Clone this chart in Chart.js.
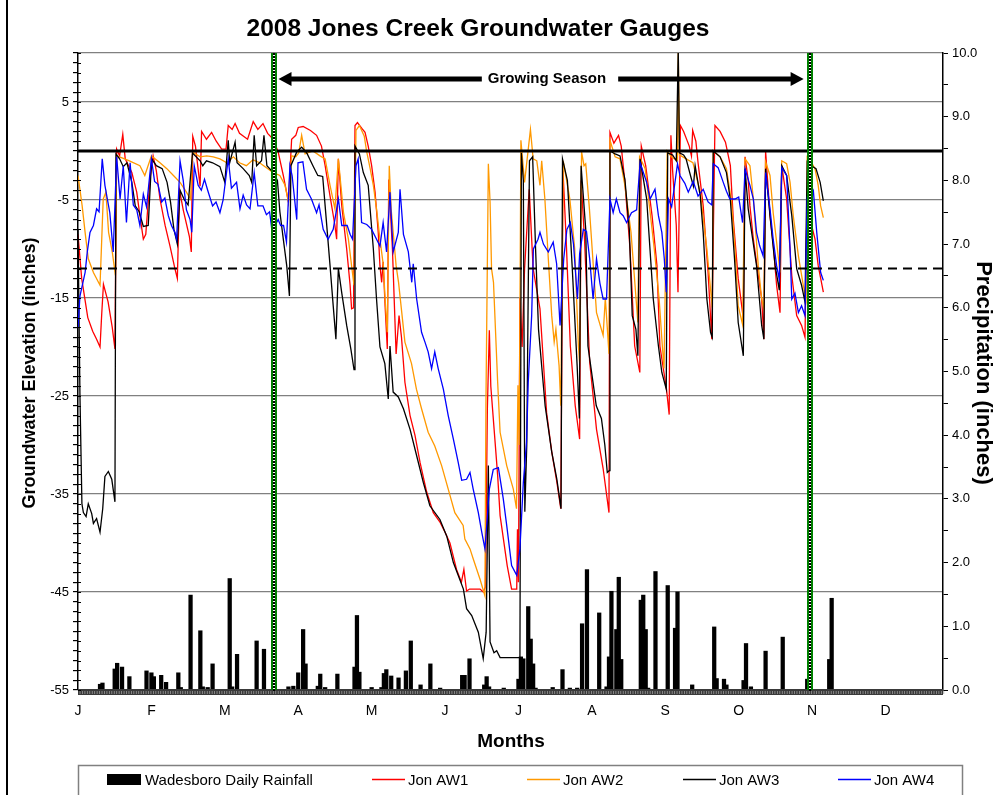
<!DOCTYPE html>
<html>
<head>
<meta charset="utf-8">
<script src="https://cdn.jsdelivr.net/npm/chart.js@4.4.0/dist/chart.umd.min.js"></script>
<style>html,body{margin:0;padding:0;background:#fff}</style>
</head>
<body>
<canvas id="c" width="994" height="795"></canvas>
<script>
// axis labels and markers
const monthLabels=['J','F','M','A','M','J','J','A','S','O','N','D'];
const growingSeason=[80.3,299];   // day of year, start / end
const refLevels=[0,-12];          // solid / dashed reference elevations

// Wadesboro daily rainfall (day of year, inches)
const rainDays=[9,10,15,16,18,21,28,30,31,34,36,41,42,46,50,51,53,55,62,63,65,73,76,86,88,90,92,93,98,99,101,106,113,114,115,120,124,125,126,128,131,134,136,140,144,148,157,158,160,166,167,168,174,180,181,182,184,185,186,187,194,198,201,204,206,208,213,216,217,218,220,221,222,230,231,232,233,236,241,244,245,251,260,261,264,265,272,273,275,281,288,298,307,308];
const rainInches=[0.09,0.11,0.33,0.42,0.36,0.21,0.30,0.27,0.21,0.23,0.12,0.27,0.04,1.49,0.93,0.05,0.04,0.41,1.75,0.05,0.56,0.77,0.64,0.05,0.06,0.27,0.95,0.41,0.06,0.25,0.04,0.25,0.36,1.17,0.28,0.04,0.04,0.26,0.32,0.22,0.19,0.30,0.77,0.08,0.41,0.03,0.23,0.23,0.49,0.08,0.21,0.05,0.03,0.17,0.52,0.49,1.31,0.80,0.41,0.03,0.04,0.32,0.03,0.03,1.04,1.89,1.21,0.05,0.52,1.55,0.95,1.77,0.48,1.41,1.49,0.95,0.03,1.86,1.64,0.97,1.54,0.08,0.99,0.18,0.17,0.08,0.15,0.73,0.05,0.61,0.83,0.17,0.48,1.44];

// gauge readings [day, inches]
const aw1=[[0,-8.5],[1.5,-13],[4,-17],[6,-18.4],[7.6,-19.2],[9,-20],[9.7,-16.6],[10.4,-13.6],[12.3,-15.4],[14,-18],[15.1,-20.2],[15.8,0.2],[17,-0.5],[18.3,1.7],[19.3,-0.8],[22,-2.2],[24,-4.2],[25.3,-6.6],[26.7,-9],[27.7,-8.5],[29.4,-2.9],[30.7,-0.5],[32,-2],[33.5,-4.9],[35.6,-7.6],[37.6,-9.7],[39.6,-12],[40.6,-13],[41.5,-4],[43,-6],[45.5,-8.7],[46.3,-10.3],[46.9,1.5],[48,0.5],[49.9,-3.6],[50.5,2],[52.5,1.2],[54.6,1.9],[56.5,1],[58.7,0.2],[60.5,0.2],[61.4,2.6],[63,2.2],[64.2,2.8],[66,1.8],[69.3,1.2],[71.6,3],[73.5,2.2],[75.6,2.8],[77.5,1.8],[79.8,1.2],[81.8,-0.1],[83.9,-2.5],[86,-5.2],[87.3,1.2],[89,1.6],[90,2.4],[92,2.5],[95,2.1],[97.5,1.6],[99.5,0.5],[101,-1.5],[103,-4.6],[105,-7.6],[105.7,-9],[106.4,-0.8],[107.8,-5.6],[109.8,-10],[111.2,-13.7],[111.8,-16.1],[112.6,-16],[113.2,2.6],[114.2,2.9],[116,2.3],[117.3,1.9],[118.6,0.5],[120,-1.5],[121.4,-4.2],[122.7,-8.3],[123.4,-11.7],[124.1,-13.4],[124.7,-11.3],[125.5,-15.8],[126.4,-20.2],[127,-2.9],[128.5,-10],[130,-20.7],[131.2,-16.8],[132.2,-19],[133.6,-23.6],[135.7,-27],[137.7,-29],[139.8,-31.8],[142.5,-34.8],[145.2,-36.9],[148,-37.9],[150,-38.9],[152,-40],[154.7,-42.7],[156.7,-44],[157.7,-42.7],[158.8,-44.9],[160,-44.7],[164.3,-44.7],[165.6,-45],[166.5,-44.5],[167.3,-26.3],[168.1,-18.3],[168.7,-24],[171.5,-33.1],[172.5,-37.2],[175.4,-42.3],[177.2,-44.7],[179.3,-44.7],[179.6,-38.6],[180,-44],[180.6,-15],[181.5,-20],[182.5,-12],[184.4,-3.9],[186,-12],[188.8,-16.1],[191.5,-26.7],[193.6,-30.7],[195.7,-33.8],[197.3,-36.5],[198.2,-2],[199.5,-9],[201.2,-19.9],[203.2,-26],[205,-29.4],[205.6,-3],[207,-9],[209.1,-21.5],[211.9,-28.4],[214.6,-32.4],[217,-36.9],[217.4,1.9],[219,0.8],[220.9,1.6],[222,0.5],[223.5,-3.2],[225.6,-10],[227.5,-19.9],[229.6,-22.6],[230.2,0.5],[232,-1.5],[234.6,-6.6],[236.6,-11.7],[237.8,-19.9],[240.5,-24.3],[241.6,-26.9],[242.3,1.6],[243,-2],[244.5,-7.6],[245.2,-14.4],[246.2,2.6],[247.5,2],[249.8,0.5],[250.7,-0.5],[251.2,2.1],[252.5,1],[253.4,-1.2],[255.5,-5.6],[257.5,-12.4],[259,-19.2],[260.3,2.6],[262.4,2],[264.6,0.9],[266.6,-1.5],[267.8,-7],[269.8,-13],[271.9,-17.1],[272.6,-0.6],[273.9,-3],[274.6,-5.6],[276,-9],[278,-12.7],[279.4,-15.1],[280.3,-19.2],[281,0],[282.8,-6.6],[284.1,-9.5],[285.5,-13.7],[286.9,-16.5],[287.6,-1.5],[289.6,-4.9],[291.7,-12.7],[293.7,-16.8],[295.7,-17.8],[297.1,-19],[298,-4],[299.8,-7.6],[301.2,-9],[302.5,-11.7],[304.6,-14.4]];

const aw2=[[0,-2.5],[1.7,-5.6],[2.9,-8.3],[4.2,-11],[6.3,-12.4],[9,-13.7],[9.6,-9.7],[10.3,-4.9],[11.4,-4.2],[12.5,-8.3],[14,-10.3],[15.3,-12.7],[15.8,-0.5],[18,-0.7],[21,-1],[25.3,-1.5],[27.3,-2.5],[30,-0.5],[33.5,-1.2],[36.3,-1.8],[39,-2.5],[41.7,-3.2],[43.8,-4],[46,-4.9],[46.8,-0.1],[49.9,-0.6],[52.6,-0.5],[55.3,-0.6],[58,-0.8],[60.8,-1.2],[63.5,-0.6],[66,-1.2],[68.8,-1.5],[71.5,-0.9],[74.2,-1.2],[77,-1.7],[79.8,-2.2],[82.5,-2.5],[84.6,-3.5],[86,-5.2],[87.3,-0.5],[89,-0.6],[90.2,-0.2],[91.4,1.6],[92.8,-0.3],[96,0],[98.9,-0.5],[101,-0.8],[103,-3.5],[105,-5.9],[106.4,-0.8],[108.5,-6.3],[110.5,-9],[111.8,-11.7],[112.8,-13.7],[113.6,2.1],[115,2.6],[117,1.5],[118,-0.1],[119.4,-1.8],[120.7,-3.5],[122,-5.9],[123.4,-9],[124.8,-11.7],[125.5,-15.1],[126.4,-18.5],[127.2,-1.5],[128,-6],[130,-11.7],[131,-13.4],[133.6,-19.5],[136.3,-21.7],[138.3,-24.3],[140.4,-26.3],[143.1,-28.7],[145.8,-30.1],[148.6,-32.1],[151.3,-34.5],[154,-36.9],[157.4,-38.2],[158.1,-39.6],[160.2,-40.6],[161.5,-41.6],[164.3,-43.7],[166.3,-45.4],[166.7,-26],[167.7,-1.3],[168.4,-5.2],[169,-12],[169.8,-13.4],[171.5,-23.6],[172.5,-28.7],[175.2,-32.1],[177.9,-34.5],[179.2,-36.5],[179.8,-23.9],[180.3,-30],[181,1.1],[182.5,-3.2],[184.9,2.2],[186,-0.8],[187.5,-1],[188.8,-3.5],[189.5,-1],[190.8,-4.9],[192.2,-11],[193.6,-16.8],[194.6,-19.5],[195.3,-18.2],[196.6,-21.9],[197.3,-26],[198.3,-1],[201,-4.9],[203,-10],[204.5,-19.9],[205,-21.6],[205.8,-0.1],[206.8,-1.5],[207.5,-1.3],[209,-5.9],[211.9,-16.5],[214.6,-18.8],[215.5,-15],[217,-20.7],[217.4,1.1],[219.5,-0.6],[221.5,-0.8],[223.5,-3.5],[226,-8.3],[228.8,-17.5],[229.5,-0.6],[231.8,-1.8],[235.5,-10],[237.5,-15.1],[238.8,-19.9],[239.5,-22.2],[240.8,0],[242.5,-0.6],[245,-1],[245.3,10.5],[245.8,-0.4],[248.5,-0.8],[251.3,-1.2],[254.3,-4.2],[257,-10],[259.2,-16],[259.6,0],[262.4,-0.6],[265,-1.8],[267,-5],[268.5,-10],[269.8,-15.8],[271.6,-17.7],[272.6,-0.8],[274.6,-1.5],[276,-4.9],[278,-11.7],[279.4,-15.1],[280.3,-16.1],[281,-1.1],[282.8,-2.5],[284.1,-6.3],[285.5,-9.3],[286.9,-12.4],[287.6,-1],[289.6,-1.3],[291,-3.2],[292.3,-6.6],[294.4,-10.7],[296.4,-13.7],[297.5,-15.1],[298,-0.6],[299.1,-0.9],[301.2,-1.8],[302.5,-3.5],[303.5,-5.6],[304.6,-6.8]];

const aw3=[[0,-8],[0.8,-25],[1.6,-36],[2.2,-36.9],[3.3,-37.3],[4.2,-36],[5.6,-37],[6.3,-38],[7.6,-37.5],[9,-38.9],[10.1,-36.5],[11,-33.2],[12.4,-32.7],[13.8,-33.5],[15.1,-35.8],[15.5,-0.3],[17,-0.8],[18.5,-1.6],[20,-1.2],[22,-3.2],[23.4,-5.6],[25,-6.2],[26.7,-7.7],[28.7,-7.6],[30.1,-0.8],[32,-1.5],[34.4,-1.8],[36.4,-3.2],[37.8,-5.2],[39.2,-8],[40.6,-9.5],[41.7,-4],[43.5,-5],[45,-5.5],[46.8,-0.2],[49.9,-1],[51,-1.5],[52.5,-1],[55,-1.2],[58,-1.6],[60,-3.2],[61.4,1.1],[62,-1.2],[64.2,0.9],[65,-1.2],[67.5,-1.8],[70,-2.5],[71,-3.2],[72,1.6],[73,-1.5],[75,-1],[76,1.6],[77.2,-1.5],[79.8,-2.2],[81.5,-3],[82.5,-6.2],[83.9,-9],[85.3,-11.7],[86.4,-14.8],[87,-1.5],[89.4,-0.1],[91.4,0.4],[93.5,-0.2],[96,-1.5],[98,-2.5],[100,-2.6],[101,-5.6],[103,-11.7],[104.3,-15.8],[105.4,-19.2],[106.4,-12],[107.8,-14.5],[109.8,-17.8],[111.5,-20.2],[112.8,-22.3],[113.2,0.5],[115,-0.3],[116.6,-2.2],[118.6,-3.5],[120.7,-10],[122,-15.1],[123.4,-20],[125.4,-21.7],[126.8,-25.3],[127.5,-19.9],[128.8,-24.6],[130.9,-25.1],[133,-26.3],[135.7,-28.4],[138.4,-31.1],[141.1,-33.8],[143.8,-36.2],[147.9,-37.6],[150.7,-39.3],[152,-40.6],[153.4,-42],[157.5,-44.7],[158.8,-46.7],[160.9,-47.4],[163.6,-49.1],[165.6,-51.8],[166.8,-49.1],[167.7,-32.1],[168.4,-50.1],[170,-51.2],[171.1,-51],[172.5,-51.7],[180.6,-51.7],[181.2,-0.2],[182,-3],[182.6,-36.8],[183.4,-30],[184.5,-1],[185.8,-0.6],[187,-10],[188.2,-18.2],[190.9,-26],[193.6,-30.7],[195.7,-33.5],[197.4,-36.5],[198,-0.8],[200,-3],[202,-12],[204,-22],[204.9,-27.3],[205.6,-1.5],[207.5,-8],[208.4,-19.9],[211.8,-26],[213.9,-27.3],[215.3,-30],[216.3,-32.8],[217.2,-32.6],[217.4,0],[219.5,-0.3],[221.5,-0.5],[223.5,-2.9],[225.3,-8],[226.5,-16.8],[228,-18.2],[228.8,-20.9],[229.7,-0.8],[232.4,-4.9],[235.1,-15.1],[237.2,-19.9],[238.6,-22.6],[240.4,-24.3],[241,-0.2],[243,-0.4],[244.5,-1],[245.3,10.5],[245.8,-0.2],[247.5,-0.4],[248.5,-0.8],[250.3,-2.5],[251.5,-3.6],[252.2,-1.5],[254.3,-4.6],[255.5,-8.3],[257,-15.1],[258.5,-18.5],[259.2,-19],[259.6,0],[262.4,-0.6],[265,-2.2],[266.6,-5],[268.3,-11],[269.8,-17.5],[271.9,-20.9],[272.6,-1.8],[273.9,-5.9],[277.3,-11.7],[279.4,-17.8],[280.3,-19.2],[281,-1.8],[282.8,-6.6],[284.9,-11.7],[286.6,-14.2],[287.6,-1.5],[289.6,-2.5],[291.7,-6.6],[293.7,-12],[295.7,-13.7],[297.1,-15.4],[298,-1.1],[299.7,-1.5],[301.6,-1.8],[303.3,-3.2],[304.6,-5.1]];

const aw4=[[0,-18],[0.8,-14.8],[2.9,-12.4],[3.8,-10.3],[4.9,-8.3],[6.3,-7.6],[7.6,-5.9],[8.6,-6.2],[9.9,-0.8],[11,-3.5],[13,-6.3],[14.4,-10.3],[15.8,-0.6],[17.2,-4.9],[18.5,-1.5],[19.8,-7.3],[21.3,-1.2],[22.6,-5.5],[24,-6],[25.3,-7.6],[26.7,-4.4],[28,-5.7],[30,-0.8],[31.3,-3.1],[32.7,-3.4],[34.2,-5.2],[35.5,-4.8],[36.9,-6.6],[38.2,-7.6],[39.6,-8.3],[40.3,-9],[41.7,-1],[43,-3],[44.3,-6],[45.8,-7],[46.5,-8.3],[47.5,-1.5],[49.1,-3.5],[50.4,-4],[51.7,-2.9],[53,-4],[55,-5.6],[56.4,-5.2],[58,-6.3],[59.3,-5],[61.4,-0.8],[62.7,-3.8],[64.8,-3.2],[66.2,-5.9],[67.5,-4.5],[68.9,-5.5],[70.3,-5.9],[72,-2.2],[73.5,-5.6],[75.6,-5.6],[77,-6.5],[78.3,-6.2],[79.2,-8],[80.5,-7.6],[81.8,-7],[82.8,-7.6],[84,-7.6],[85.2,-9.3],[86.6,-1.5],[87.5,-2.5],[89.4,-7],[89.9,-1.2],[91.9,-1.1],[93.4,-3.9],[95.4,-4.9],[97.5,-6.3],[98.5,-5.5],[100.2,-8],[102.2,-9],[104.3,-8],[106.4,-4.9],[107.8,-7.6],[110,-7.6],[111.2,-8.5],[112.2,-9],[113.6,-1.5],[114.5,-0.8],[115.9,-7.3],[118,-7.5],[120,-8],[122,-9],[123.4,-9.7],[124.7,-7.3],[126.1,-10.3],[127.5,-4.2],[128.8,-10.3],[130.9,-8.3],[131.6,-3.9],[133,-8.5],[135,-10.3],[136.4,-13.4],[137,-11.5],[138.4,-15.1],[140.4,-18.5],[141.8,-19.5],[143.1,-20.5],[144.5,-22.2],[145.8,-20.5],[147.2,-22.2],[149.3,-24.3],[151.3,-27],[153.4,-29.4],[155.4,-31.8],[156.8,-33.6],[158.8,-33.5],[160.2,-32.8],[161.5,-34.5],[163.6,-36.9],[165,-38.9],[166.3,-40.6],[167.1,-38],[168.1,-34.5],[169.7,-32.5],[171.8,-32.3],[173.8,-35.5],[175.2,-38.2],[177.2,-42.3],[179.3,-43.3],[180.6,-40.6],[182,-33.8],[183.3,-29.7],[184,-23.6],[185.4,-16.8],[186.1,-10],[188,-9],[188.8,-8.3],[190.2,-9.5],[192.2,-10.3],[194.2,-9.3],[195.6,-11.5],[197,-17.8],[198.5,-11],[199.8,-8],[201.2,-7.3],[202.5,-9.5],[204.1,-15.1],[205,-10.5],[206.5,-8],[207.8,-8.2],[209.1,-11],[210.5,-15.1],[211.9,-11],[213.3,-13.5],[214.6,-15.1],[216,-15.1],[217.4,-4.9],[218.7,-6.3],[220,-4.9],[221.5,-6.3],[222.8,-6.6],[224.2,-7.3],[226.2,-6.3],[228.3,-6],[229.7,-1.2],[232.4,-3.2],[233.8,-4.9],[235.8,-3.9],[237.2,-6.6],[238.6,-8.3],[239.6,-11],[240.4,-14.4],[241.3,-4.9],[242.6,-5.7],[243.8,-3.5],[245,-1.3],[246,-2.5],[248,-3.3],[249.4,-4.2],[251.4,-3.1],[253.4,-4.6],[255.5,-3.9],[257.5,-5.2],[259,-5.5],[259.6,-1.3],[261.6,-1.7],[263.7,-3.2],[265,-4.1],[266.4,-4.9],[268.5,-4.9],[270,-4.7],[271.6,-7.3],[272.6,-1.8],[274.6,-3.5],[276,-4.9],[277.3,-8.3],[278.6,-9.7],[280,-10.7],[281,-2.2],[282.8,-5.9],[284.1,-9],[285.5,-11.7],[286.6,-13.1],[287.6,-1.7],[289.6,-2.5],[291,-10],[291.7,-15.1],[293,-14.5],[294.4,-16.5],[295.7,-15.8],[297.1,-16.8],[298,-4.9],[298.8,-3.2],[300.5,-4],[301.9,-8.3],[303.5,-12.4],[304.6,-13.2]];

const F="'Liberation Sans', Arial, sans-serif";
const XMAX=353.5;
const pts=a=>a.map(p=>({x:p[0],y:p[1]}));
const hline=v=>[{x:0,y:v},{x:XMAX,y:v}];
const isMajor=v=>(v+55)%10===0&&v<10;

const gwLine=(label,data,color,order)=>({type:'line',label,data:pts(data),borderColor:color,backgroundColor:color,borderWidth:1.3,pointRadius:0,tension:0,order,yAxisID:'y'});

const decor={
  id:'decor',
  afterDatasetsDraw(chart){
    const {ctx,chartArea:a,scales:{x}}=chart;
    ctx.save();
    // zero-rain strip under the axis
    ctx.fillStyle='#3a3a3a';
    ctx.fillRect(a.left,a.bottom-1,a.right-a.left,6);
    ctx.fillStyle='#9a9a9a';
    for(let d=0;d<XMAX;d+=1){const px=x.getPixelForValue(d);ctx.fillRect(px+1.6,a.bottom+1,0.8,3);}
    // growing season markers
    growingSeason.forEach(d=>{
      const px=Math.round(x.getPixelForValue(d));
      ctx.fillStyle='#008000';ctx.fillRect(px-3,a.top,6,a.bottom-a.top);
      ctx.fillStyle='#fff';ctx.fillRect(px-1,a.top,2,a.bottom-a.top);
      ctx.fillStyle='#000';
      for(let y=a.top;y<a.bottom;y+=3)ctx.fillRect(px-1,y,2,2);
    });
    // arrow
    const x1=x.getPixelForValue(growingSeason[0])+4,x2=x.getPixelForValue(growingSeason[1])-6,ya=79;
    ctx.font="bold 15px "+F;
    const label='Growing Season',tx=547,tw=ctx.measureText(label).width;
    ctx.fillStyle='#000';
    ctx.fillRect(x1+10,ya-2.5,(tx-tw/2-6)-(x1+10),5);
    ctx.fillRect(tx+tw/2+12,ya-2.5,(x2-10)-(tx+tw/2+12),5);
    ctx.beginPath();ctx.moveTo(x1,ya);ctx.lineTo(x1+13,ya-7);ctx.lineTo(x1+13,ya+7);ctx.closePath();ctx.fill();
    ctx.beginPath();ctx.moveTo(x2,ya);ctx.lineTo(x2-13,ya-7);ctx.lineTo(x2-13,ya+7);ctx.closePath();ctx.fill();
    ctx.textAlign='center';ctx.textBaseline='middle';
    ctx.fillText(label,tx,ya);
    // inner half of left axis ticks
    const yl=chart.scales.y;ctx.strokeStyle='#000';ctx.lineWidth=1;
    yl.ticks.forEach(t=>{const py=Math.round(yl.getPixelForValue(t.value))+0.5;ctx.beginPath();ctx.moveTo(a.left,py);ctx.lineTo(a.left+3,py);ctx.stroke();});
    ctx.restore();
  },
  afterDraw(chart){
    const {ctx}=chart;
    ctx.save();
    ctx.fillStyle='#000';ctx.textAlign='center';ctx.textBaseline='middle';
    ctx.font="bold 24.5px "+F;ctx.fillText('2008 Jones Creek Groundwater Gauges',478,29);
    ctx.font="bold 19px "+F;ctx.fillText('Months',511,742);
    ctx.font="bold 18px "+F;
    ctx.save();ctx.translate(30,373);ctx.rotate(-Math.PI/2);ctx.fillText('Groundwater Elevation (inches)',0,0);ctx.restore();
    ctx.font="bold 22px "+F;
    ctx.save();ctx.translate(983,373);ctx.rotate(Math.PI/2);ctx.fillText('Precipitation (inches)',0,0);ctx.restore();
    // legend
    ctx.strokeStyle='#808080';ctx.lineWidth=1.5;ctx.strokeRect(78.5,765.5,884,40);
    const ds=chart.data.datasets;
    const items=['Wadesboro Daily Rainfall','Jon AW1','Jon AW2','Jon AW3','Jon AW4'];
    const lx=[107,372,527,683,838];
    ctx.font="15px "+F;ctx.textAlign='left';
    items.forEach((lab,i)=>{
      const d=ds.find(s=>s.label===lab);const ly=779.5;
      if(d.type==='bar'){ctx.fillStyle='#000';ctx.fillRect(lx[i],774,34,11);}
      else{ctx.strokeStyle=d.borderColor;ctx.lineWidth=1.5;ctx.beginPath();ctx.moveTo(lx[i],ly);ctx.lineTo(lx[i]+33,ly);ctx.stroke();}
      ctx.fillStyle='#000';ctx.fillText(lab,lx[i]+(d.type==='bar'?38:36),ly+1);
    });
    // outer frame edge
    ctx.fillStyle='#000';ctx.fillRect(6,0,2,795);
    ctx.restore();
  }
};

new Chart(document.getElementById('c'),{
  type:'bar',
  data:{datasets:[
    {type:'line',label:'ref0',data:hline(refLevels[0]),borderColor:'#000',borderWidth:3,pointRadius:0,order:0,yAxisID:'y'},
    {type:'line',label:'ref12',data:hline(refLevels[1]),borderColor:'#000',borderWidth:2,borderDash:[9,6],pointRadius:0,order:0,yAxisID:'y'},
    gwLine('Jon AW4',aw4,'#0000FF',1),
    gwLine('Jon AW3',aw3,'#000000',2),
    gwLine('Jon AW2',aw2,'#FF9900',3),
    gwLine('Jon AW1',aw1,'#FF0000',4),
    {type:'bar',label:'Wadesboro Daily Rainfall',data:rainDays.map((d,i)=>({x:d,y:rainInches[i]})),backgroundColor:'#000',barThickness:3.6,order:5,yAxisID:'y2'}
  ]},
  options:{
    responsive:false,animation:false,devicePixelRatio:1,
    layout:{padding:{top:53,left:0,right:0,bottom:0}},
    plugins:{legend:{display:false},tooltip:{enabled:false},title:{display:false}},
    scales:{
      x:{type:'linear',min:0,max:XMAX,offset:false,
        afterFit(s){s.height=105;},
        afterBuildTicks(s){s.ticks=monthLabels.map((m,i)=>({value:i*30}));},
        border:{display:false},
        grid:{display:true,drawOnChartArea:false,color:'rgba(0,0,0,0)',tickColor:'rgba(0,0,0,0)',tickLength:10},
        ticks:{autoSkip:false,maxRotation:0,padding:3,color:'#000',font:{family:F,size:14},
          callback:v=>monthLabels[Math.round(v/30)]||''}},
      y:{type:'linear',position:'left',min:-55,max:10,
        afterFit(s){s.width=78;},
        border:{color:'#000',width:1.5},
        grid:{color:c=>(c.tick&&c.tick.value>-55&&(isMajor(c.tick.value)||c.tick.value===10))?'#808080':'rgba(0,0,0,0)',lineWidth:1.2,tickColor:'#000',tickLength:5},
        ticks:{stepSize:1,autoSkip:false,padding:4,color:'#000',font:{family:F,size:13},
          callback:v=>isMajor(v)?String(v):''}},
      y2:{type:'linear',position:'right',min:0,max:10,
        afterFit(s){s.width=51;},
        border:{color:'#000',width:1.5},
        grid:{drawOnChartArea:false,tickColor:'#000',tickLength:5},
        ticks:{stepSize:0.5,autoSkip:false,padding:4,color:'#000',font:{family:F,size:13},
          callback:v=>Number.isInteger(v)?v.toFixed(1):''}}
    }
  },
  plugins:[decor]
});
</script>
</body>
</html>
